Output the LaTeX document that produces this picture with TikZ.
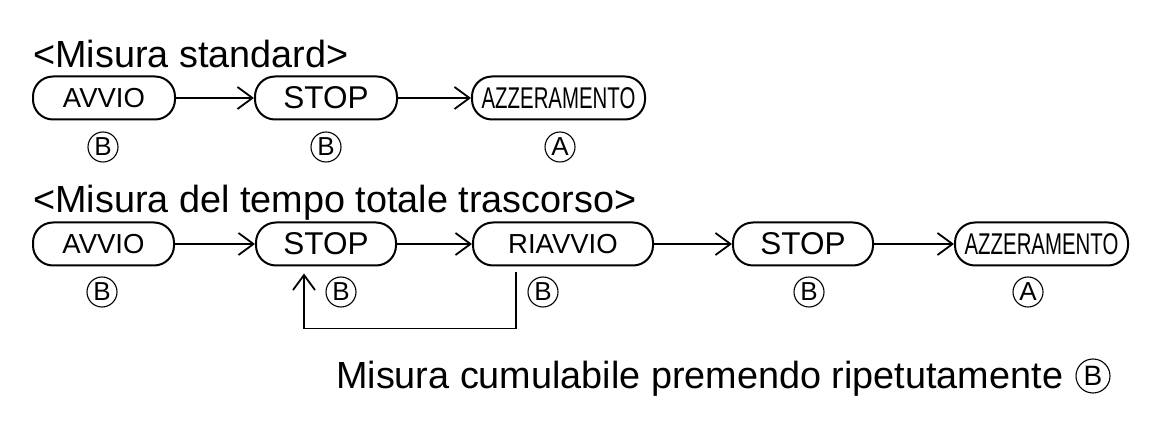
\documentclass[tikz,border=0pt]{standalone}
\usepackage{graphicx}
\usepackage{fontspec}
\setmainfont{Liberation Sans}
\usetikzlibrary{arrows.meta}
\newcommand{\azz}{\scalebox{0.68}[1]{AZZERAMENTO}}
\begin{document}
\begin{tikzpicture}[x=1pt,y=-1pt,
  pill/.style={draw, line width=2pt, rounded corners=20pt, minimum height=43pt, inner sep=0pt,
    font=\fontsize{27.5}{28}\selectfont},
  big/.style={font=\fontsize{31.5}{32}\selectfont},
  azs/.style={font=\fontsize{30}{31}\selectfont},
  key/.style={draw, circle, line width=1.1pt, minimum size=30pt, inner sep=0pt,
    font=\fontsize{26}{26}\selectfont},
  conn/.style={line width=1.8pt, -{Straight Barb[length=15pt,width=22pt,line width=1.8pt]}},
  title/.style={font=\fontsize{37.8}{40}\selectfont, anchor=base west, inner sep=0pt}]
\useasboundingbox (0,0) rectangle (1160,427);

% titles
\node[title] (t1) at (33,68) {<Misura standard>};
\node[title] (t2) at (33,213) {<Misura del tempo totale trascorso>};

% row 1
\node[pill, minimum width=142pt] (a1) at (104,98) {AVVIO};
\node[pill, big, minimum width=142pt] (s1) at (326,98) {STOP};
\node[pill, azs, minimum width=173pt] (z1) at (558.5,98) {\azz};
\draw[conn] (a1) -- (s1);
\draw[conn] (s1) -- (z1);
\node[key] (k1) at (103,147) {B};
\node[key] (k2) at (326,147) {B};
\node[key] (k3) at (560,147) {A};

% row 2
\node[pill, minimum width=141pt] (a2) at (103.5,244) {AVVIO};
\node[pill, big, minimum width=140pt] (s2) at (326,244) {STOP};
\node[pill, minimum width=180pt] (r2) at (563,244) {RIAVVIO};
\node[pill, big, minimum width=140pt] (s3) at (803,244) {STOP};
\node[pill, azs, minimum width=173pt] (z2) at (1041.5,244) {\azz};
\draw[conn] (a2) -- (s2);
\draw[conn] (s2) -- (r2);
\draw[conn] (r2) -- (s3);
\draw[conn] (s3) -- (z2);
\node[key] (k4) at (102,292) {B};
\node[key] (k5) at (341,292) {B};
\node[key] (k6) at (543,292) {B};
\node[key] (k7) at (809,292) {B};
\node[key] (k8) at (1028,292) {A};

% loop
\draw[conn] ([xshift=-47pt,yshift=-6pt]r2.south) -- ++(0,56)
  -| ([xshift=-22pt,yshift=-7pt]s2.south);

% note
\node[title] (note) at (336,389) {Misura cumulabile premendo ripetutamente};
\node[key, minimum size=34pt, font=\fontsize{28}{28}\selectfont] (k9) at (1093,376) {B};
\end{tikzpicture}
\end{document}
